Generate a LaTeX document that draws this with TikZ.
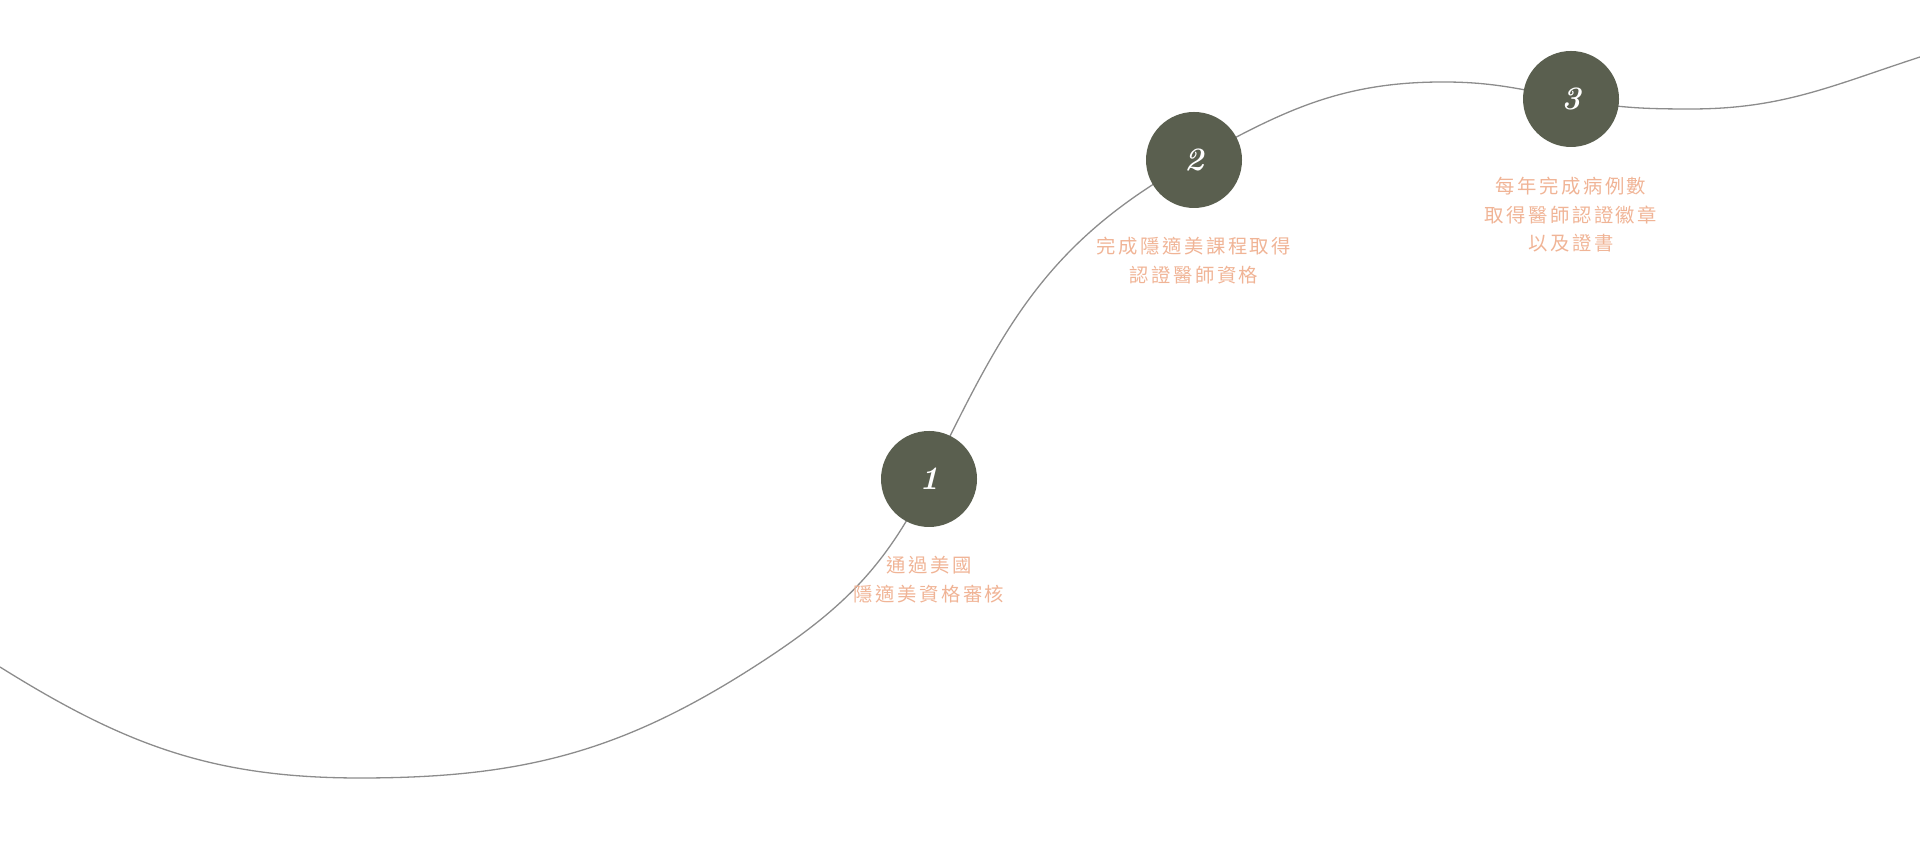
\documentclass[tikz,border=0pt]{standalone}
\usepackage{fontspec}
\newfontfamily\cjk[LetterSpace=13]{Noto Sans CJK TC}
\usetikzlibrary{positioning}

\definecolor{olive}{HTML}{5A5F4F}
\definecolor{salmon}{HTML}{F0B496}
\definecolor{trackgray}{HTML}{8C8C8C}

\begin{document}
\begin{tikzpicture}[
    stepdot/.style = {circle, fill=olive, minimum size=0.96cm, inner sep=0pt,
                      text=white, font=\fontsize{9.3}{9.3}\selectfont\bfseries\itshape},
    steptext/.style = {text=salmon, align=center, inner sep=0pt,
                       font=\cjk\fontsize{5.5}{8.1}\selectfont},
    track/.style = {draw=trackgray, line width=0.37pt}
]
\useasboundingbox (0,0) rectangle (19.2,8.58);

\coordinate (p1) at (9.29,3.79);
\coordinate (p2) at (11.94,6.98);
\coordinate (p3) at (15.71,7.59);
\coordinate (start) at (0,1.91);
\coordinate (low) at (3.60,0.80);
\coordinate (bend) at (7.60,1.95);
\coordinate (top) at (14.43,7.76);
\coordinate (dip) at (16.91,7.49);
\coordinate (end) at (19.20,8.01);

%% the winding line behind the steps
\draw[track] (start) to[out=-32, in=180] (low)
    to[out=0, in=213] (bend)
    to[out=33, in=244] (p1)
    to[out=64, in=209, looseness=1.05] (p2)
    to[out=29, in=180] (top)
    to[out=0, in=169] (p3)
    to[out=-11, in=180] (dip)
    to[out=0, in=198] (end);

\node[stepdot] (s1) at (p1) {1};
\node[stepdot] (s2) at (p2) {2};
\node[stepdot] (s3) at (p3) {3};

\node[steptext, below=0.28 of s1] (t1) {通過美國\\隱適美資格審核};
\node[steptext, below=0.28 of s2] (t2) {完成隱適美課程取得\\認證醫師資格};
\node[steptext, below=0.29 of s3] (t3) {每年完成病例數\\取得醫師認證徽章\\以及證書};
\end{tikzpicture}
\end{document}
